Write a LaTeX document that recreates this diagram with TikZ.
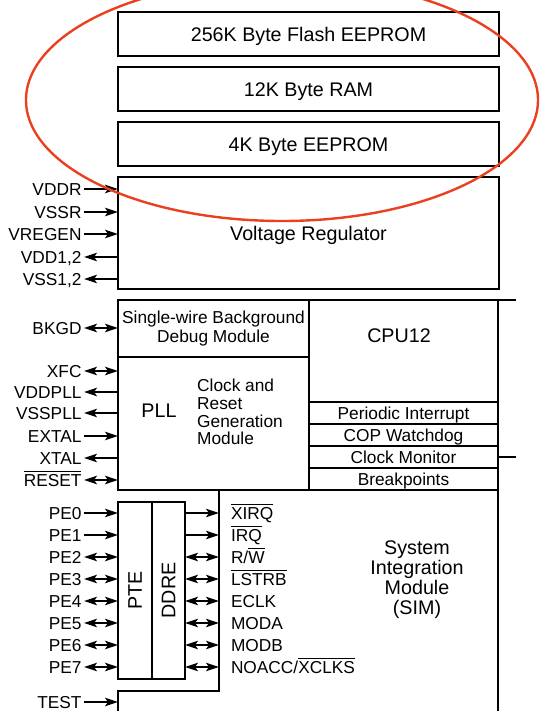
\documentclass[tikz,border=0pt]{standalone}
\usepackage{fontspec}
\setmainfont{Liberation Sans}
\usepackage{xcolor}
\usepackage{tikz}
\usetikzlibrary{arrows.meta, positioning, calc}
\definecolor{markred}{RGB}{234,64,32}
\newcommand{\barsig}[1]{\vbox{\hrule height 1.1pt\kern 2pt\hbox{#1}}}

\begin{document}
\begin{tikzpicture}[x=1pt, y=-1pt, >={Stealth[length=13pt, width=8.5pt, inset=3pt]}, node distance=11pt]
  \tikzstyle{block} = [rectangle, draw, line width=2.4pt, outer sep=0pt, inner sep=0pt, font=\fontsize{19.7}{20}\selectfont]
  \tikzstyle{mem} = [block, minimum width=381pt, text height=14.1pt, text depth=0pt]
  \tikzstyle{cell} = [block, minimum width=189pt, minimum height=22pt, text height=12.4pt, text depth=0pt, font=\fontsize{17.3}{18}\selectfont]
  \tikzstyle{big} = [inner sep=0pt, font=\fontsize{19.7}{20}\selectfont]
  \tikzstyle{small} = [inner sep=0pt, font=\fontsize{17.3}{17.7}\selectfont]
  \tikzstyle{pin} = [small, inner sep=1pt, outer sep=1.5pt, text height=12.4pt, text depth=0pt]
  \tikzstyle{wire} = [line width=1.4pt]
  \tikzstyle{frame} = [line width=2.4pt]

  \useasboundingbox (0,0) rectangle (540,711);

  \node[mem, minimum height=44pt] (Flash) at (308.5,34) {256K Byte Flash EEPROM};
  \node[mem, minimum height=44pt, below=of Flash] (RAM) {12K Byte RAM};
  \node[mem, minimum height=44pt, below=of RAM] (EEPROM) {4K Byte EEPROM};
  \node[mem, minimum height=112pt, below=of EEPROM] (VReg) {};
  \node[big] (VRegname) at (308.5,235) {Voltage Regulator};

  \node[block, minimum width=191pt, minimum height=57pt, align=center, font=\fontsize{17.3}{19}\selectfont] (BDM) at (213.5,328.5) {Single-wire Background\\Debug Module};
  \node[block, minimum width=191pt, minimum height=133pt, below=0pt of BDM] (PLLbox) {};
  \node[big] (PLL) at (159,411) {PLL};
  \node[small, align=left, anchor=west] (CGM) at (197,412) {Clock and\\Reset\\Generation\\Module};

  \node[block, minimum width=189pt, minimum height=102pt] (CPU) at (403.5,351) {};
  \node[big] (CPUname) at (399,336) {CPU12};
  \node[cell, below=0pt of CPU] (PIT) {Periodic Interrupt};
  \node[cell, below=0pt of PIT] (COP) {COP Watchdog};
  \node[cell, below=0pt of COP] (CM) {Clock Monitor};
  \node[cell, below=0pt of CM] (BKP) {Breakpoints};

  \draw[frame] (CPU.north east) -- ++(18,0);
  \draw[frame] (CM.east) -- ++(18,0);
  \draw[frame] (BKP.south east) -- ++(0,221);

  \coordinate (SIMw) at (219,490);
  \draw[frame] (SIMw) |- (118,691) -- (118,711);
  \node[big, align=center] (SIM) at (417,580) {System\\Integration\\Module\\(SIM)};

  \node[block, minimum width=34pt, minimum height=177pt] (PTE) at (135,590.5) {};
  \node[block, minimum width=33pt, minimum height=177pt, right=0pt of PTE] (DDRE) {};
  \node[big, rotate=90] (PTEname) at (PTE) {PTE};
  \node[big, rotate=90] (DDREname) at (DDRE) {DDRE};

  \foreach \id/\txt/\y/\dir in {VDDR/VDDR/189/->, VSSR/VSSR/212/->, VREGEN/VREGEN/234/->, VDD/{VDD1,2}/257/<-, VSS/{VSS1,2}/279/<-} {
    \node[pin, anchor=east] (\id) at (84,\y) {\txt};
    \draw[wire, \dir] (\id) -- (\id -| VReg.west);
  }

  \foreach \id/\txt/\y/\dir in {BKGD/BKGD/328/<->, XFC/XFC/371/<->, VDDPLL/VDDPLL/392/<-, VSSPLL/VSSPLL/413/<-, EXTAL/EXTAL/436/->, XTAL/XTAL/458/<-, RESET/{\barsig{RESET}}/480/<->} {
    \node[pin, anchor=east] (\id) at (84,\y) {\txt};
    \draw[wire, \dir] (\id) -- (\id -| BDM.west);
  }

  \foreach \i/\dir in {0/->, 1/->, 2/<->, 3/<->, 4/<->, 5/<->, 6/<->, 7/<->} {
    \node[pin, anchor=east] (PE\i) at (84,513+22*\i) {PE\i};
    \draw[wire, \dir] (PE\i) -- (PE\i -| PTE.west);
  }

  \foreach \i/\txt/\dir in {0/{\barsig{XIRQ}}/->, 1/{\barsig{IRQ}}/->, 2/{R/\barsig{W}}/<->, 3/{\barsig{LSTRB}}/<->, 4/ECLK/<->, 5/MODA/<->, 6/MODB/<->, 7/{NOACC/\barsig{XCLKS}}/<->} {
    \node[pin, anchor=west, outer sep=0pt] (Sig\i) at (230,513+22*\i) {\txt};
    \draw[wire, \dir] (Sig\i -| DDRE.east) -- (Sig\i -| SIMw);
  }

  \node[pin, anchor=east] (TEST) at (84,702) {TEST};
  \coordinate (SIMtest) at (118,702);
  \draw[wire, ->] (TEST) -- (SIMtest);

  \begin{scope}
    \clip (0,0) rectangle (540,711);
    \draw[markred, line width=2.4pt] (282,100) ellipse [x radius=256pt, y radius=121pt];
  \end{scope}
\end{tikzpicture}
\end{document}
